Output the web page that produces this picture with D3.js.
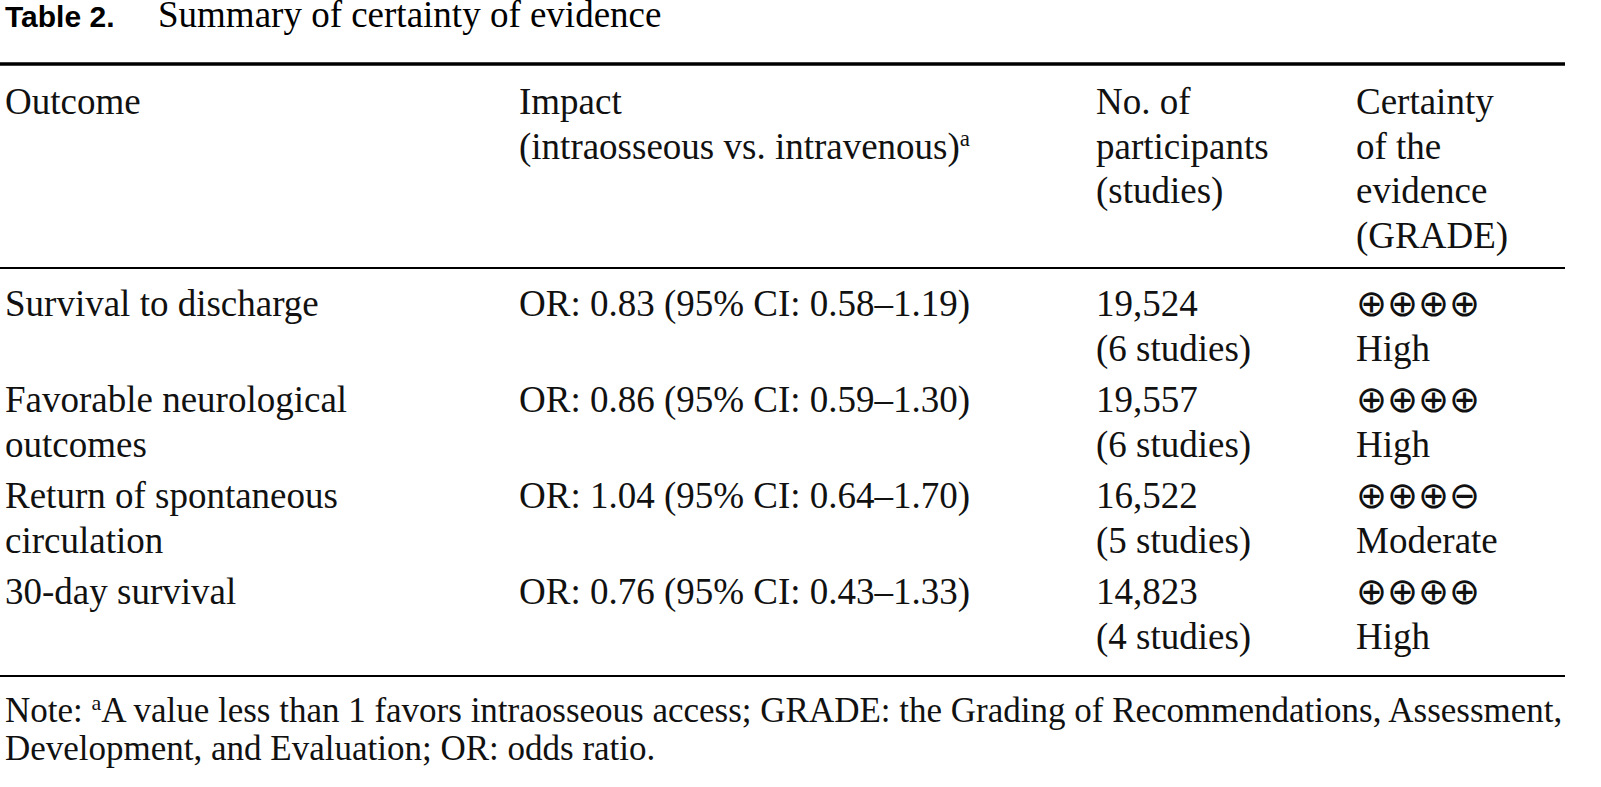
<!DOCTYPE html>
<html><head><meta charset="utf-8">
<script src="https://cdn.jsdelivr.net/npm/d3@7"></script>
<style>body{margin:0;background:#fff}</style></head>
<body><svg id="c" width="1601" height="787"></svg>
<script>
const headers=[["Outcome"],["Impact","(intraosseous vs. intravenous)"],["No. of","participants","(studies)"],["Certainty","of the","evidence","(GRADE)"]];
const outcomes=[["Survival to discharge"],["Favorable neurological","outcomes"],["Return of spontaneous","circulation"],["30-day survival"]];
const orValues=["0.83","0.86","1.04","0.76"];
const ciLow=["0.58","0.59","0.64","0.43"];
const ciHigh=["1.19","1.30","1.70","1.33"];
const participants=["19,524","19,557","16,522","14,823"];
const studies=["6 studies","6 studies","5 studies","4 studies"];
const grades=["⊕⊕⊕⊕","⊕⊕⊕⊕","⊕⊕⊕⊖","⊕⊕⊕⊕"];
const gradeLabels=["High","High","Moderate","High"];

const svg=d3.select("#c");
const F="'Liberation Serif','Times New Roman',serif", FS=37;
const colX=d3.scaleOrdinal().domain([0,1,2,3]).range([5,519,1096,1356]);
const lh=44.5;
svg.append("text").attr("x",5).attr("y",27).attr("font-family","'Liberation Sans',Arial,sans-serif").attr("font-weight","bold").attr("font-size",30).text("Table 2.");
svg.append("text").attr("x",158).attr("y",27).attr("font-family",F).attr("font-size",FS).text("Summary of certainty of evidence");
const line=(y,w)=>svg.append("line").attr("x1",0).attr("x2",1565).attr("y1",y).attr("y2",y).attr("stroke","#000").attr("stroke-width",w);
line(64,3.5);line(268,2);line(676,2);
function txt(x,y,s,fs){return svg.append("text").attr("x",x).attr("y",y).attr("font-family",F).attr("font-size",fs||FS).attr("fill","#111").text(s);}
headers.forEach((h,i)=>h.forEach((s,j)=>{const t=txt(colX(i),114+j*lh,s);
 if(i===1&&j===1)t.append("tspan").attr("dy",-13).attr("font-size",23).text("a");}));
const rowY=d3.scaleBand().domain(d3.range(4)).range([316,700]);
outcomes.forEach((o,r)=>{const y=rowY(r);
 o.forEach((s,j)=>txt(colX(0),y+j*lh,s));
 txt(colX(1),y,`OR: ${orValues[r]} (95% CI: ${ciLow[r]}–${ciHigh[r]})`);
 txt(colX(2),y,participants[r]);txt(colX(2),y+lh,`(${studies[r]})`);
 txt(colX(3),y,grades[r]);txt(colX(3),y+lh,gradeLabels[r]);
});
const n=txt(5,722,"Note: ",35);n.append("tspan").attr("dy",-12).attr("font-size",22).text("a");
n.append("tspan").attr("dy",12).text("A value less than 1 favors intraosseous access; GRADE: the Grading of Recommendations, Assessment,");
txt(5,760,"Development, and Evaluation; OR: odds ratio.",35);
</script></body></html>
